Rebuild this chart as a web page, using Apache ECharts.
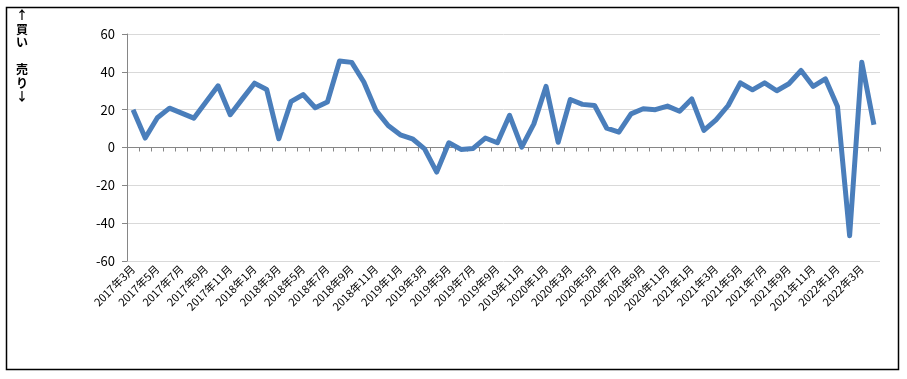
<!DOCTYPE html>
<html><head><meta charset="utf-8">
<script src="https://cdn.jsdelivr.net/npm/echarts@6/dist/echarts.min.js"></script>
<style>html,body{margin:0;padding:0;background:#fff}#c{width:907px;height:379px}</style>
</head><body><div id="c"></div>
<script>
const startYear = 2017, startMonth = 3, monthCount = 62;
const categories = [];
for (let i = 0; i < monthCount; i++) {
  const m = startMonth - 1 + i;
  categories.push((startYear + Math.floor(m / 12)) + '年' + (m % 12 + 1) + '月');
}
const values = [20, 5, 15.7, 20.8, 18.2, 15.5, 24, 32.6, 17.3, 25.7, 34, 30.7,
  4.6, 24.2, 28, 21, 24, 45.7, 45, 34.6, 19.6, 11.6, 6.7, 4.6,
  -0.7, -13, 2.5, -1, -0.5, 5, 2.5, 17, 0.2, 12.5, 32.3, 2.8,
  25.4, 22.8, 22.2, 10.2, 8.1, 17.8, 20.5, 20, 21.9, 19.2, 25.7, 9,
  14.6, 22.2, 34.2, 30.5, 34.2, 30, 33.7, 40.7, 32.3, 36.3, 21.7, -46.6,
  45.1, 12];
const yTicks = [-60, -40, -20, 0, 20, 40, 60];

const chart = echarts.init(document.getElementById('c'));
chart.setOption({
  animation: false,
  grid: {left: 127, right: 27, top: 34, bottom: 118, containLabel: false, outerBoundsMode: 'none'},
  graphic: [
    {type: 'rect', shape: {x: 6.5, y: 7.5, width: 892, height: 362}, style: {fill: 'none', stroke: '#000', lineWidth: 1.5}},
    {type: 'text', left: 16, top: 9, style: {text: '↑\n買\nい\n\n売\nり\n↓', font: 'bold 12px "Noto Sans CJK JP"', fill: '#000', lineHeight: 13.5}}
  ],
  xAxis: {
    type: 'category', data: categories, boundaryGap: true,
    axisLine: {onZero: true, lineStyle: {color: '#868686', width: 1}},
    axisTick: {show: true, interval: 0, length: 4, inside: false, lineStyle: {color: '#868686'}},
    axisLabel: {interval: 1, rotate: 45, fontSize: 11, color: '#000', fontFamily: '"Noto Sans CJK JP"', margin: 6}
  },
  yAxis: {
    type: 'value', min: -60, max: 60, interval: 20,
    axisLine: {show: true, lineStyle: {color: '#868686'}},
    axisTick: {show: true, length: 5, lineStyle: {color: '#868686'}},
    axisLabel: {fontSize: 13, color: '#000', fontFamily: '"Noto Sans CJK JP"', margin: 12,
      formatter: v => yTicks.includes(v) ? String(v) : ''},
    splitLine: {lineStyle: {color: '#d9d9d9', width: 1}}
  },
  series: [{
    type: 'line', data: values, symbol: 'none',
    lineStyle: {color: '#4a7ebb', width: 5, join: 'round'}
  }]
});
</script></body></html>
